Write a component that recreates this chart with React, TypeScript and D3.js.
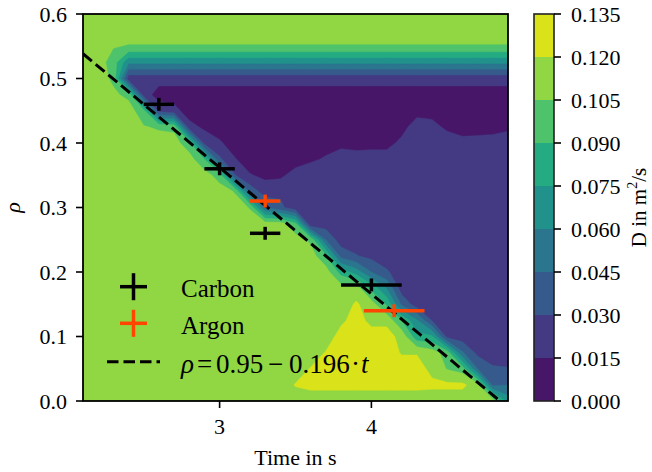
import React from 'react';
import * as d3 from 'd3';

// grid axes of the diffusion map
const T_GRID = [2.1, 2.2, 2.3, 2.4, 2.5, 2.6, 2.7, 2.8, 2.9, 3.0, 3.1, 3.2, 3.3, 3.4, 3.5, 3.6, 3.7, 3.8, 3.9, 4.0, 4.1, 4.2, 4.3, 4.4, 4.5, 4.6, 4.7, 4.8, 4.9];
const RHO_GRID = [0, 0.025, 0.05, 0.075, 0.1, 0.125, 0.15, 0.175, 0.2, 0.225, 0.25, 0.275, 0.3, 0.325, 0.35, 0.375, 0.4, 0.425, 0.45, 0.475, 0.5, 0.525, 0.55, 0.575, 0.6];

// D in 1e-3 m^2/s, one row per rho (bottom to top), one value per t
const D_GRID = [
  [112, 112, 112, 112, 112, 112, 112, 112, 112, 112, 112, 112, 112, 112, 112, 112, 112, 112, 112, 112, 112, 112, 112, 112, 112, 112, 112, 112, 68], // 0.000
  [112, 112, 112, 112, 112, 112, 112, 112, 112, 112, 112, 112, 112, 112, 121, 124, 124, 124, 124, 124, 124, 124, 124, 123, 123, 123, 112, 42, 45], // 0.025
  [112, 112, 112, 112, 112, 112, 112, 112, 112, 112, 112, 112, 112, 112, 112, 121, 126, 126, 126, 126, 126, 126, 126, 116, 104, 98, 45, 32, 31], // 0.050
  [112, 112, 112, 112, 112, 112, 112, 112, 112, 112, 112, 112, 112, 112, 112, 112, 121, 126, 126, 126, 126, 119, 119, 112, 98, 47, 26, 22, 22], // 0.075
  [112, 112, 112, 112, 112, 112, 112, 112, 112, 112, 112, 112, 112, 112, 112, 112, 112, 126, 126, 126, 126, 115, 80, 77, 25, 22, 22, 22, 22], // 0.100
  [112, 112, 112, 112, 112, 112, 112, 112, 112, 112, 112, 112, 112, 112, 112, 112, 112, 117, 126, 116, 116, 90, 62, 29, 22, 22, 22, 22, 22], // 0.125
  [112, 112, 112, 112, 112, 112, 112, 112, 112, 112, 112, 112, 112, 112, 112, 112, 112, 112, 122, 112, 88, 42, 22, 22, 22, 22, 22, 22, 22], // 0.150
  [112, 112, 112, 112, 112, 112, 112, 112, 112, 112, 112, 112, 112, 112, 112, 112, 112, 112, 112, 85, 60, 22, 22, 22, 22, 22, 22, 22, 22], // 0.175
  [112, 112, 112, 112, 112, 112, 112, 112, 112, 112, 112, 112, 112, 112, 112, 112, 112, 84, 68, 45, 32, 22, 22, 22, 22, 22, 22, 22, 22], // 0.200
  [112, 112, 112, 112, 112, 112, 112, 112, 112, 112, 112, 112, 112, 112, 112, 112, 93, 40, 31, 26, 22, 22, 22, 22, 22, 22, 22, 22, 22], // 0.225
  [112, 112, 112, 112, 112, 112, 112, 112, 112, 112, 112, 112, 112, 112, 112, 102, 45, 22, 22, 22, 22, 22, 22, 22, 22, 22, 22, 22, 22], // 0.250
  [112, 112, 112, 112, 112, 112, 112, 112, 112, 112, 112, 112, 112, 112, 93, 16, 22, 22, 22, 22, 22, 22, 22, 22, 22, 22, 22, 22, 22], // 0.275
  [112, 112, 112, 112, 112, 112, 112, 112, 112, 112, 112, 104, 45, 34, 20, 22, 22, 22, 22, 22, 22, 22, 22, 22, 22, 22, 22, 22, 22], // 0.300
  [112, 112, 112, 112, 112, 112, 112, 112, 112, 112, 104, 40, 22, 26, 22, 22, 22, 22, 22, 22, 22, 22, 22, 22, 22, 22, 22, 22, 22], // 0.325
  [112, 112, 112, 112, 112, 112, 112, 112, 112, 98, 31, 16, 12, 12, 21, 26, 22, 22, 22, 22, 22, 22, 22, 22, 22, 22, 22, 22, 22], // 0.350
  [112, 112, 112, 112, 112, 112, 112, 112, 90, 33, 16, 8, 8, 8, 8, 12, 17, 26, 23, 25, 25, 22, 22, 22, 22, 22, 22, 22, 22], // 0.375
  [112, 112, 112, 112, 112, 112, 112, 95, 26, 17, 8, 8, 8, 8, 8, 8, 8, 9, 8, 8, 8, 20, 22, 22, 26, 20, 21, 23, 26], // 0.400
  [112, 112, 112, 112, 106, 103, 101, 20, 12, 8, 8, 8, 8, 8, 8, 8, 8, 8, 8, 8, 8, 8, 25, 21, 11, 8, 8, 8, 11], // 0.425
  [112, 112, 112, 112, 95, 25, 20, 8, 8, 8, 8, 8, 8, 8, 8, 8, 8, 8, 8, 8, 8, 8, 8, 8, 8, 8, 8, 8, 8], // 0.450
  [112, 112, 108, 101, 23, 8, 8, 8, 8, 8, 8, 8, 8, 8, 8, 8, 8, 8, 8, 8, 8, 8, 8, 8, 8, 8, 8, 8, 8], // 0.475
  [112, 112, 102, 21, 21, 21, 21, 21, 21, 21, 21, 21, 21, 21, 21, 21, 21, 21, 21, 21, 21, 21, 21, 21, 21, 21, 21, 21, 21], // 0.500
  [112, 112, 98, 63, 63, 63, 63, 63, 63, 63, 63, 63, 63, 63, 63, 63, 63, 63, 63, 63, 63, 63, 63, 63, 63, 63, 63, 63, 63], // 0.525
  [112, 112, 106, 104, 104, 104, 104, 104, 104, 104, 104, 104, 104, 104, 104, 104, 104, 104, 104, 104, 104, 104, 104, 104, 104, 104, 104, 104, 104], // 0.550
  [112, 112, 112, 112, 112, 112, 112, 112, 112, 112, 112, 112, 112, 112, 112, 112, 112, 112, 112, 112, 112, 112, 112, 112, 112, 112, 112, 112, 112], // 0.575
  [112, 112, 112, 112, 112, 112, 112, 112, 112, 112, 112, 112, 112, 112, 112, 112, 112, 112, 112, 112, 112, 112, 112, 112, 112, 112, 112, 112, 112], // 0.600
];

const LEVELS = [0, 0.015, 0.03, 0.045, 0.06, 0.075, 0.09, 0.105, 0.12, 0.135];

// measured points
const CARBON_T = [2.6, 3.0, 3.3, 4.0];
const CARBON_RHO = [0.46, 0.36, 0.26, 0.18];
const CARBON_TERR = [0.1, 0.1, 0.1, 0.2];
const ARGON_T = [3.3, 4.15];
const ARGON_RHO = [0.31, 0.14];
const ARGON_TERR = [0.1, 0.2];
const RHO_ERR = 0.01;

// fit rho = a - b*t
const FIT_A = 0.95;
const FIT_B = 0.196;

const X_TICKS = [3, 4];
const Y_TICKS = [0, 0.1, 0.2, 0.3, 0.4, 0.5, 0.6];

const FONT = "'Liberation Serif', 'Times New Roman', serif";
const ARGON_COLOR = '#ff4500';

export default function App() {
  const W = 652, H = 472;
  const left = 83, right = 508, top = 14, bottom = 401;
  const cbX = 534, cbW = 20;

  const x = d3.scaleLinear().domain([T_GRID[0], T_GRID[T_GRID.length - 1]]).range([left, right]);
  const y = d3.scaleLinear().domain([RHO_GRID[0], RHO_GRID[RHO_GRID.length - 1]]).range([bottom, top]);
  const cb = d3.scaleLinear().domain([LEVELS[0], LEVELS[LEVELS.length - 1]]).range([bottom, top]);

  const nx = T_GRID.length, ny = RHO_GRID.length;
  const values: number[] = [];
  D_GRID.forEach(row => row.forEach(v => values.push(v / 1000)));

  // grid index (cell centres at i + 0.5) -> data
  const tIdx = d3.scaleLinear().domain(T_GRID.map((_, i) => i + 0.5)).range(T_GRID);
  const rIdx = d3.scaleLinear().domain(RHO_GRID.map((_, i) => i + 0.5)).range(RHO_GRID);

  const interp = (p: number[], thr: number) => {
    let [u, v] = p;
    if (Number.isInteger(u) && u > 0 && u < nx) {
      const j = Math.floor(v);
      const a = values[j * nx + u - 1], b = values[j * nx + u];
      if (b !== a) u = u - 0.5 + (thr - a) / (b - a);
    } else if (Number.isInteger(v) && v > 0 && v < ny) {
      const i = Math.floor(u);
      const a = values[(v - 1) * nx + i], b = values[v * nx + i];
      if (b !== a) v = v - 0.5 + (thr - a) / (b - a);
    }
    return [x(tIdx(u)), y(rIdx(v))];
  };

  const contours = d3.contours().size([nx, ny]).smooth(false).thresholds(LEVELS)(values);
  const nBands = LEVELS.length - 1;
  const bandColor = (i: number) => d3.interpolateViridis((i + 0.5) / nBands);

  const fills = contours.slice(0, nBands).map((c, k) => {
    const d = c.coordinates
      .map(poly => poly.map(ring => 'M' + ring.map(p => interp(p, c.value).map(n => n.toFixed(2)).join(',')).join('L') + 'Z').join(''))
      .join('');
    return { d, color: bandColor(k) };
  });

  const tEnd = FIT_A / FIT_B;
  const fitLine = d3.line<number>().x(t => x(t)).y(t => y(FIT_A - FIT_B * t))([T_GRID[0], tEnd]) || '';

  const errorBars = (ts: number[], rs: number[], es: number[], color: string, key: string) =>
    ts.map((t, i) => (
      <g key={key + i} stroke={color} strokeWidth={3.5}>
        <line x1={x(t - es[i])} x2={x(t + es[i])} y1={y(rs[i])} y2={y(rs[i])} />
        <line x1={x(t)} x2={x(t)} y1={y(rs[i] - RHO_ERR)} y2={y(rs[i] + RHO_ERR)} />
      </g>
    ));

  const fmt3 = d3.format('.3f');
  const fmt1 = d3.format('.1f');

  return (
    <svg width={W} height={H} style={{ position: 'fixed', left: 0, top: 0, background: '#fff' }} fontFamily={FONT}>
      <defs>
        <clipPath id="plot-clip">
          <rect x={left} y={top} width={right - left} height={bottom - top} />
        </clipPath>
      </defs>

      <g clipPath="url(#plot-clip)">
        {fills.map((f, i) => (
          <path key={i} d={f.d} fill={f.color} fillRule="evenodd" stroke={f.color} strokeWidth={0.4} />
        ))}
        <path d={fitLine} fill="none" stroke="#000" strokeWidth={3} strokeDasharray="11.5 5" />
      </g>

      {errorBars(CARBON_T, CARBON_RHO, CARBON_TERR, '#000', 'c')}
      {errorBars(ARGON_T, ARGON_RHO, ARGON_TERR, ARGON_COLOR, 'a')}

      {/* frame */}
      <rect x={left} y={top} width={right - left} height={bottom - top} fill="none" stroke="#000" strokeWidth={1.8} />

      {/* x axis */}
      {X_TICKS.map(t => (
        <g key={t}>
          <line x1={x(t)} x2={x(t)} y1={bottom} y2={bottom + 7} stroke="#000" strokeWidth={1.6} />
          <text x={x(t)} y={434} fontSize={22} textAnchor="middle">{t}</text>
        </g>
      ))}
      <text x={(left + right) / 2} y={465} fontSize={22} textAnchor="middle">Time in s</text>

      {/* y axis */}
      {Y_TICKS.map(r => (
        <g key={r}>
          <line x1={left - 7} x2={left} y1={y(r)} y2={y(r)} stroke="#000" strokeWidth={1.6} />
          <text x={67} y={y(r) + 7.5} fontSize={22} textAnchor="end">{fmt1(r)}</text>
        </g>
      ))}
      <text transform={`translate(20, ${(top + bottom) / 2}) rotate(-90)`} fontSize={22} fontStyle="italic" textAnchor="middle">ρ</text>

      {/* legend */}
      <g stroke="#000" strokeWidth={3.5}>
        <line x1={120} x2={147} y1={286.7} y2={286.7} />
        <line x1={133.5} x2={133.5} y1={273.2} y2={300.2} />
      </g>
      <g stroke={ARGON_COLOR} strokeWidth={3.5}>
        <line x1={120} x2={147} y1={323.3} y2={323.3} />
        <line x1={133.5} x2={133.5} y1={309.8} y2={336.8} />
      </g>
      <line x1={107} x2={160} y1={361.7} y2={361.7} stroke="#000" strokeWidth={3} strokeDasharray="11.5 5" />
      <text x={181} y={296.5} fontSize={25}>Carbon</text>
      <text x={181} y={334} fontSize={25}>Argon</text>
      <text y={372.5} fontSize={27}>
        <tspan x={181} fontStyle="italic">ρ</tspan>
        <tspan x={197}>=</tspan>
        <tspan x={216}>0.95</tspan>
        <tspan x={268}>−</tspan>
        <tspan x={289}>0.196</tspan>
        <tspan x={351}>·</tspan>
        <tspan x={361} fontStyle="italic">t</tspan>
      </text>

      {/* colorbar */}
      {d3.range(nBands).map(i => (
        <rect key={i} x={cbX} width={cbW} y={cb(LEVELS[i + 1])} height={cb(LEVELS[i]) - cb(LEVELS[i + 1])} fill={bandColor(i)} />
      ))}
      <rect x={cbX} y={top} width={cbW} height={bottom - top} fill="none" stroke="#222" strokeWidth={1.6} />
      {LEVELS.map(l => (
        <g key={l}>
          <line x1={cbX + cbW} x2={cbX + cbW + 7} y1={cb(l)} y2={cb(l)} stroke="#000" strokeWidth={1.6} />
          <text x={571} y={cb(l) + 7.5} fontSize={22}>{fmt3(l)}</text>
        </g>
      ))}
      <text transform={`translate(646, ${(top + bottom) / 2}) rotate(-90)`} fontSize={21} textAnchor="middle">
        D in m<tspan dy={-9} fontSize={14}>2</tspan><tspan dy={9}>/s</tspan>
      </text>
    </svg>
  );
}
